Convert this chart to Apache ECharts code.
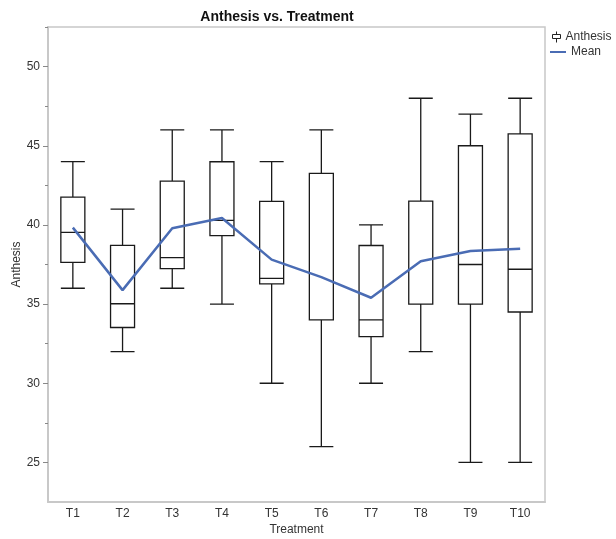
<!DOCTYPE html>
<html>
<head>
<meta charset="utf-8">
<script src="https://cdn.jsdelivr.net/npm/echarts@6/dist/echarts.min.js"></script>
<style>
html,body{margin:0;padding:0;background:#fff;}
#c{width:616px;height:539px;}
</style>
</head>
<body>
<div id="c"></div>
<script>
var categories = ['T1','T2','T3','T4','T5','T6','T7','T8','T9','T10'];
// [min, Q1, median, Q3, max]
var boxMin    = [36, 32, 36, 35, 30, 26, 30, 32, 25, 25];
var boxQ1     = [37.64, 33.52, 37.24, 39.33, 36.28, 34.0, 32.95, 35.0, 35.0, 34.5];
var boxMedian = [39.53, 35.02, 37.94, 40.29, 36.63, 34.0, 34.0, 35.0, 37.5, 37.2];
var boxQ3     = [41.75, 38.71, 42.76, 43.99, 41.49, 43.25, 38.7, 41.5, 45.0, 45.75];
var boxMax    = [44, 41, 46, 46, 44, 46, 40, 48, 47, 48];
var meanValues = [39.83, 35.88, 39.79, 40.44, 37.81, 36.7, 35.4, 37.7, 38.35, 38.5];
var yMajorTicks = [25, 30, 35, 40, 45, 50];
var yMinorTicks = [27.5, 32.5, 37.5, 42.5, 47.5, 52.5];

var boxData = categories.map(function(c, i){
  return [boxMin[i], boxQ1[i], boxMedian[i], boxQ3[i], boxMax[i]];
});

var FONT = "'Liberation Sans', 'Noto Sans', sans-serif";
var chart = echarts.init(document.getElementById('c'), null, {renderer:'canvas'});
chart.setOption({
  animation: false,
  title: {
    text: 'Anthesis vs. Treatment',
    left: 272, top: 5, textAlign: 'center',
    textStyle: {fontFamily: FONT, fontWeight: 'bold', fontSize: 14, color: '#111'}
  },
  legend: [{
    left: 552, top: 31, orient: 'vertical', padding: 0,
    itemWidth: 8, itemHeight: 11,
    data: [{name: 'Anthesis', icon: 'path://M4,0L4,3M0,3L8,3L8,7L0,7ZM4,7L4,11'}],
    itemStyle: {color: '#fff', borderColor: '#222', borderWidth: 1},
    textStyle: {fontFamily: FONT, fontSize: 12, color: '#333'},
    selectedMode: false
  },{
    left: 550, top: 46, orient: 'vertical', padding: 0,
    itemWidth: 16, itemHeight: 2,
    data: [{name: 'Mean', icon: 'rect'}],
    textStyle: {fontFamily: FONT, fontSize: 12, color: '#333'},
    selectedMode: false
  }],
  grid: {
    left: 48, right: 71, top: 27, bottom: 37,
    outerBoundsMode: 'none',
    show: true, borderColor: '#c8c8c8', borderWidth: 1.5, containLabel: false
  },
  xAxis: {
    type: 'category', data: categories, boundaryGap: true,
    name: 'Treatment', nameLocation: 'middle', nameGap: 22, nameMoveOverlap: false,
    nameTextStyle: {fontFamily: FONT, fontSize: 12, color: '#333'},
    axisLine: {lineStyle: {color: '#c8c8c8', width: 2}},
    axisTick: {show: false},
    axisLabel: {fontFamily: FONT, fontSize: 12, color: '#333', margin: 6},
    splitLine: {show: false}
  },
  yAxis: [{
    type: 'value', min: 22.5, max: 52.5,
    name: 'Anthesis', nameLocation: 'middle', nameGap: 25, nameMoveOverlap: false,
    nameTextStyle: {fontFamily: FONT, fontSize: 12, color: '#333'},
    axisLine: {show: true, lineStyle: {color: '#c8c8c8', width: 2}},
    axisTick: {show: true, length: 5, customValues: yMajorTicks, lineStyle: {color: '#888'}},
    axisLabel: {fontFamily: FONT, fontSize: 12, color: '#333', margin: 8, customValues: yMajorTicks},
    splitLine: {show: false}
  },{
    type: 'value', min: 22.5, max: 52.5, position: 'left', offset: 0,
    axisLine: {show: false},
    axisTick: {show: true, length: 3, customValues: yMinorTicks, lineStyle: {color: '#888'}},
    axisLabel: {show: false},
    splitLine: {show: false}
  }],
  series: [{
    name: 'Anthesis', type: 'boxplot', data: boxData,
    boxWidth: [24, 24],
    itemStyle: {color: '#fff', borderColor: '#1a1a1a', borderWidth: 1.3},
    emphasis: {disabled: true},
    z: 2
  },{
    name: 'Mean', type: 'line', data: meanValues,
    symbol: 'none', smooth: false,
    lineStyle: {color: '#4a6cb4', width: 2.5},
    itemStyle: {color: '#4a6cb4'},
    emphasis: {disabled: true},
    z: 5
  }]
});
</script>
</body>
</html>
